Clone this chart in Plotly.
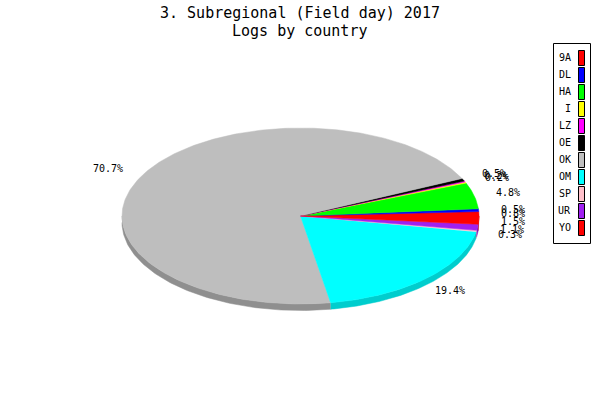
import numpy as np
import plotly.graph_objects as go

categories = ["9A", "DL", "HA", "I", "LZ", "OE", "OK", "OM", "SP", "UR", "YO"]
percent = [0.8, 0.5, 4.8, 0.2, 0.2, 0.5, 70.7, 19.4, 0.3, 1.1, 1.5]
colors = ["#ff0000", "#0000ff", "#00ff00", "#ffff00", "#ff00ff", "#000000",
          "#bebebe", "#00ffff", "#ffc0cb", "#a020f0", "#ff0000"]
side_colors = ["#cc0000", "#0000cc", "#00cc00", "#cccc00", "#cc00cc", "#000000",
               "#8f8f8f", "#00cdcd", "#cc9aa2", "#8019c0", "#cc0000"]
title_lines = ["3. Subregional (Field day) 2017", "Logs by country"]

W, H = 600, 400
CX, CY, RX, RY, DEPTH = 300.5, 216, 178.5, 88, 6.5
LCX, LCY, LRX, LRY = 298.5, 216.5, 215, 104
FONT = "DejaVu Sans Mono"

# Axes are in pixels of the page; the elliptical pie is a projection of the values.
total = sum(percent)
edges = np.cumsum([0] + percent) / total * 2 * np.pi
fig = go.Figure()


def poly(x, y, color):
    fig.add_trace(go.Scatter(x=x, y=y, mode="lines", fill="toself", fillcolor=color,
                             line=dict(width=0.5, color=color), hoverinfo="skip",
                             showlegend=False))


# side wall: parts of the rim on the front half
for a0, a1, c in zip(edges[:-1], edges[1:], side_colors):
    for lo, hi in ((np.pi, 2 * np.pi), (3 * np.pi, 4 * np.pi)):
        s, e = max(a0, lo), min(a1, hi)
        if e > s:
            t = np.linspace(s, e, 120)
            x = CX + RX * np.cos(t)
            y = CY - RY * np.sin(t)
            poly(np.r_[x, x[::-1]], np.r_[y, y[::-1] + DEPTH], c)

# top face
for a0, a1, c in zip(edges[:-1], edges[1:], colors):
    t = np.linspace(a0, a1, max(4, int((a1 - a0) * 80)))
    poly(np.r_[CX, CX + RX * np.cos(t), CX], np.r_[CY, CY - RY * np.sin(t), CY], c)

annotations = []
# percentage labels
mids = (edges[:-1] + edges[1:]) / 2
for v, m in zip(percent, mids):
    annotations.append(dict(x=LCX + LRX * np.cos(m), y=LCY - LRY * np.sin(m), xref="x", yref="y",
                            text=f"{v:.1f}%", showarrow=False, xanchor="center", yanchor="middle",
                            font=dict(family=FONT, size=10, color="black")))

# titles
for line, ty in zip(title_lines, (13, 31)):
    annotations.append(dict(x=299.5, y=ty, xref="x", yref="y", text=line, showarrow=False,
                            xanchor="center", yanchor="middle",
                            font=dict(family=FONT, size=15, color="black")))

# legend
shapes = [dict(type="rect", xref="x", yref="y", x0=553.5, x1=590.5, y0=43.5, y1=243.5,
               line=dict(color="black", width=1), fillcolor="white")]
for i, (cat, c) in enumerate(zip(categories, colors)):
    top = 50.5 + i * 17
    shapes.append(dict(type="rect", xref="x", yref="y", x0=578.5, x1=584.5, y0=top, y1=top + 15,
                       line=dict(color="black", width=1), fillcolor=c))
    annotations.append(dict(x=573, y=top + 7, xref="x", yref="y", text=cat, showarrow=False,
                            xanchor="right", yanchor="middle",
                            font=dict(family=FONT, size=10, color="black")))

fig.update_layout(
    width=W, height=H, margin=dict(l=0, r=0, t=0, b=0), autosize=False,
    paper_bgcolor="white", plot_bgcolor="white", showlegend=False,
    xaxis=dict(range=[0, W], visible=False, fixedrange=True),
    yaxis=dict(range=[H, 0], visible=False, fixedrange=True),
    annotations=annotations, shapes=shapes,
)
fig.write_html("out.html", config=dict(displayModeBar=False),
               post_script="document.body.style.margin='0';document.documentElement.style.overflow='hidden';")
